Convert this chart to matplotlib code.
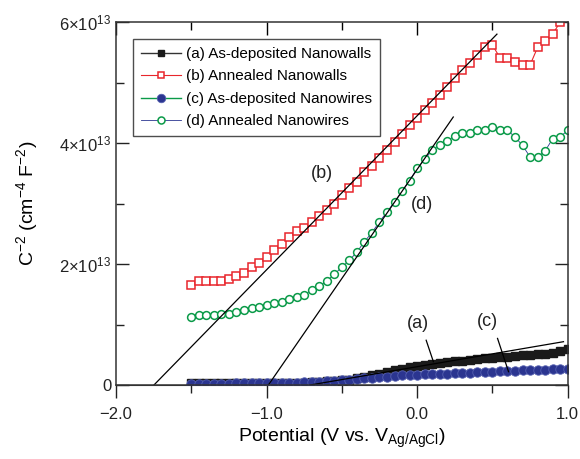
import numpy as np
import matplotlib
matplotlib.use("Agg")
import matplotlib.pyplot as plt
from matplotlib.ticker import MultipleLocator, FixedLocator, FixedFormatter

plt.rcParams['font.family'] = ['Liberation Sans', 'DejaVu Sans']
plt.rcParams['mathtext.fontset'] = 'custom'
plt.rcParams['mathtext.rm'] = 'Liberation Sans'
plt.rcParams['mathtext.it'] = 'Liberation Sans:italic'

# potential (V vs Ag/AgCl)
potential = [-1.50, -1.45, -1.40, -1.35, -1.30, -1.25, -1.20, -1.15, -1.10, -1.05,
             -1.00, -0.95, -0.90, -0.85, -0.80, -0.75, -0.70, -0.65, -0.60, -0.55,
             -0.50, -0.45, -0.40, -0.35, -0.30, -0.25, -0.20, -0.15, -0.10, -0.05,
             0.00, 0.05, 0.10, 0.15, 0.20, 0.25, 0.30, 0.35, 0.40, 0.45,
             0.50, 0.55, 0.60, 0.65, 0.70, 0.75, 0.80, 0.85, 0.90, 0.95, 1.00]

# C^-2 values, in units of 1e13 cm^-4 F^-2
asdep_walls = [0.03, 0.03, 0.03, 0.03, 0.03, 0.03, 0.03, 0.03, 0.04, 0.04,
               0.04, 0.04, 0.04, 0.04, 0.04, 0.04, 0.05, 0.05, 0.06, 0.07,
               0.08, 0.09, 0.11, 0.13, 0.16, 0.19, 0.21, 0.24, 0.27, 0.29,
               0.31, 0.33, 0.35, 0.36, 0.38, 0.39, 0.40, 0.41, 0.43, 0.44,
               0.45, 0.46, 0.47, 0.48, 0.49, 0.50, 0.51, 0.52, 0.53, 0.56, 0.59]

ann_walls = [1.66, 1.72, 1.72, 1.72, 1.72, 1.76, 1.81, 1.85, 1.95, 2.01,
             2.11, 2.23, 2.33, 2.44, 2.55, 2.59, 2.70, 2.79, 2.90, 2.99,
             3.14, 3.25, 3.36, 3.52, 3.62, 3.76, 3.88, 4.02, 4.15, 4.29,
             4.41, 4.54, 4.66, 4.80, 4.92, 5.07, 5.20, 5.33, 5.46, 5.58,
             5.62, 5.41, 5.41, 5.34, 5.29, 5.29, 5.58, 5.69, 5.80, 6.00, 6.15]

asdep_wires = [0.02, 0.02, 0.02, 0.02, 0.02, 0.02, 0.03, 0.03, 0.03, 0.03,
               0.03, 0.03, 0.04, 0.04, 0.04, 0.05, 0.05, 0.05, 0.06, 0.07,
               0.08, 0.09, 0.10, 0.11, 0.12, 0.13, 0.14, 0.15, 0.16, 0.165,
               0.17, 0.175, 0.18, 0.185, 0.19, 0.195, 0.20, 0.205, 0.21, 0.215,
               0.22, 0.225, 0.23, 0.235, 0.24, 0.245, 0.25, 0.255, 0.26, 0.265, 0.27]

ann_wires = [1.12, 1.15, 1.15, 1.16, 1.18, 1.18, 1.21, 1.24, 1.27, 1.29,
             1.32, 1.35, 1.37, 1.42, 1.46, 1.49, 1.57, 1.63, 1.72, 1.83,
             1.95, 2.06, 2.20, 2.37, 2.52, 2.70, 2.86, 3.03, 3.20, 3.38,
             3.58, 3.73, 3.88, 3.97, 4.03, 4.12, 4.16, 4.16, 4.21, 4.21,
             4.26, 4.21, 4.21, 4.10, 3.96, 3.77, 3.77, 3.87, 4.07, 4.10, 4.21]

# Mott-Schottky fit lines (end points)
fit_b_x = [-1.748, 0.53]
fit_b_y = [0.0, 5.80]
fit_d_x = [-0.988, 0.24]
fit_d_y = [0.0, 4.43]
fit_a_x = [-0.711, 0.972]
fit_a_y = [0.0, 0.716]

labels = ["(a) As-deposited Nanowalls", "(b) Annealed Nanowalls",
          "(c) As-deposited Nanowires", "(d) Annealed Nanowires"]

sc = 1e13
x = np.array(potential)

fig = plt.figure(figsize=(5.8, 4.59), dpi=100)
ax = fig.add_axes([0.2, 0.1612, 0.7788, 0.7908])

red = '#e8262c'
green = '#0a9a48'
navy = '#2b3590'

ax.plot(x, np.array(asdep_walls)*sc, '-', color='#333333', lw=1,
        marker='s', ms=5.5, mfc='#1a1a1a', mec='#1a1a1a', label=labels[0])
ax.plot(x, np.array(ann_walls)*sc, '-', color=red, lw=0.8,
        marker='s', ms=5.2, mfc='white', mec=red, mew=1.1, label=labels[1])
ax.plot(x, np.array(asdep_wires)*sc, '-', color=green, lw=1,
        marker='o', ms=6.8, mfc=navy, mec='#5560b0', mew=0.6, label=labels[2])
ax.plot(x, np.array(ann_wires)*sc, '-', color=navy, lw=0.6,
        marker='o', ms=5.6, mfc='white', mec=green, mew=1.1, label=labels[3])

for fx, fy in [(fit_b_x, fit_b_y), (fit_d_x, fit_d_y), (fit_a_x, fit_a_y)]:
    ax.plot(fx, np.array(fy)*sc, color='black', lw=0.9)

# labels with leader lines
ax.text(-0.633, 3.50*sc, "(b)", fontsize=13, ha='center', va='center', color='#222222')
ax.text(0.031, 2.98*sc, "(d)", fontsize=13, ha='center', va='center', color='#222222')
ax.text(0.004, 1.02*sc, "(a)", fontsize=13, ha='center', va='center', color='#222222')
ax.text(0.467, 1.05*sc, "(c)", fontsize=13, ha='center', va='center', color='#222222')
ax.plot([0.06, 0.108], [0.74*sc, 0.385*sc], color='black', lw=0.9)
ax.plot([0.534, 0.607], [0.77*sc, 0.22*sc], color='black', lw=0.9)

ax.set_xlim(-2.0, 1.0)
ax.set_ylim(0, 6e13)

ax.xaxis.set_major_locator(FixedLocator([-2.0, -1.0, 0.0, 1.0]))
ax.xaxis.set_minor_locator(MultipleLocator(0.5))
ax.yaxis.set_major_locator(FixedLocator([0, 2e13, 4e13, 6e13]))
ax.yaxis.set_major_formatter(FixedFormatter(["0", r"2$\times$10$^{13}$",
                                             r"4$\times$10$^{13}$", r"6$\times$10$^{13}$"]))
ax.yaxis.set_minor_locator(MultipleLocator(1e13))

ax.tick_params(axis='y', which='both', direction='in', left=True, right=True,
               labelsize=12, colors='#222222')
ax.tick_params(axis='x', which='both', direction='in', top=True, bottom=False,
               labelbottom=False)
ax.tick_params(which='major', length=9.5, width=1)
ax.tick_params(which='minor', length=5.5, width=1)

# bottom ticks point outward
sec = ax.secondary_xaxis('bottom')
sec.set_xticks([-2.0, -1.0, 0.0, 1.0])
sec.set_xticklabels(["\u22122.0", "\u22121.0", "0.0", "1.0"])
sec.xaxis.set_minor_locator(MultipleLocator(0.5))
sec.tick_params(which='both', direction='out', labelsize=12, colors='#222222', width=1)
sec.tick_params(which='major', length=9.5, pad=6)
sec.tick_params(which='minor', length=5.5)
sec.spines['bottom'].set_color('#333333')
sec.set_xlabel("Potential (V vs. V$_{\\mathrm{Ag/AgCl}}$)", fontsize=14, labelpad=4)

for s in ax.spines.values():
    s.set_color('#333333')
    s.set_linewidth(1.1)

ax.set_ylabel("C$^{-2}$ (cm$^{-4}$ F$^{-2}$)", fontsize=14, labelpad=14)

leg = ax.legend(loc='upper left', bbox_to_anchor=(0.038, 0.952), fontsize=11,
                frameon=True, fancybox=False, handlelength=2.6, borderpad=0.5,
                labelspacing=0.55, handletextpad=0.35, borderaxespad=0,
                markerscale=0.9)
leg.get_frame().set_edgecolor('#222222')
leg.get_frame().set_linewidth(1.0)

fig.savefig("out.png", dpi=100)
